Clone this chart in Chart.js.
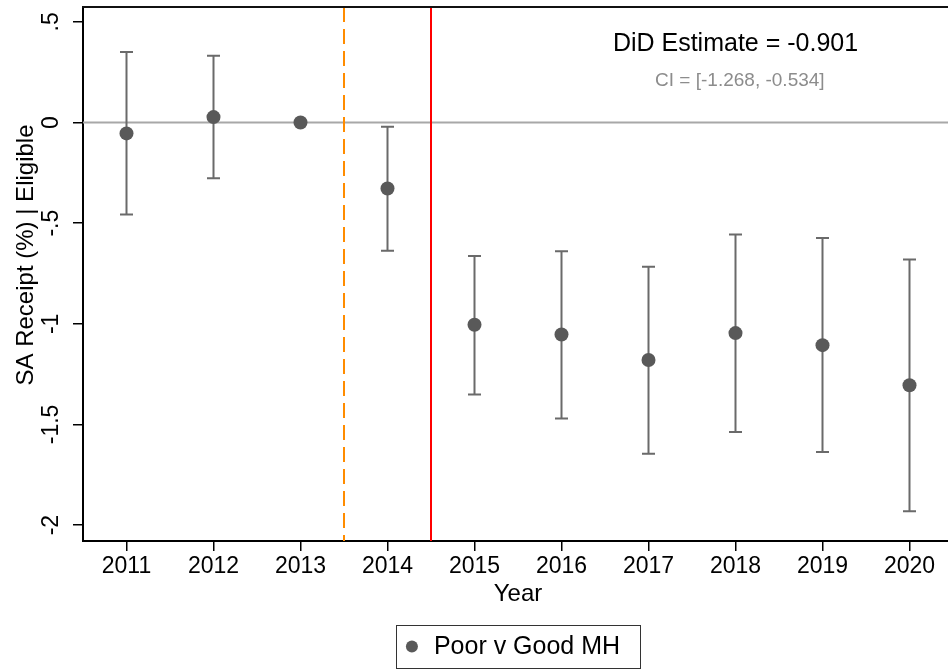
<!DOCTYPE html>
<html>
<head>
<meta charset="utf-8">
<script src="https://cdn.jsdelivr.net/npm/chart.js@4.4.1/dist/chart.umd.min.js"></script>
<style>
  html, body { margin: 0; padding: 0; background: #fff; overflow: hidden; }
  #wrap { width: 960px; height: 670px; }
</style>
</head>
<body>
<div id="wrap"><canvas id="chart" width="960" height="670"></canvas></div>
<script>
const FONT = '"Liberation Sans", Arial, Helvetica, sans-serif';

// event-study coefficients
const years = [2011, 2012, 2013, 2014, 2015, 2016, 2017, 2018, 2019, 2020];
const estimates = [-0.054, 0.027, 0, -0.328, -1.005, -1.053, -1.180, -1.046, -1.106, -1.305];
const ciLower = [-0.457, -0.277, null, -0.637, -1.351, -1.470, -1.645, -1.538, -1.637, -1.931];
const ciUpper = [0.350, 0.332, null, -0.021, -0.663, -0.639, -0.716, -0.556, -0.574, -0.680];

const yTicks = [0.5, 0, -0.5, -1, -1.5, -2];
const yTickLabels = [".5", "0", "-.5", "-1", "-1.5", "-2"];
const xTicks = years;

const yMin = -2.079, yMax = 0.574;
const xMin = 2010.5, xMax = 2020.5;

const announceLine = 2013.5; // dashed orange
const policyLine = 2014.5;   // solid red
const zeroLine = 0;

const didLabel = "DiD Estimate = -0.901";
const ciLabel = "CI = [-1.268, -0.534]";
const didAt = [2018, 0.39];
const ciAt = [2018.05, 0.21];

const seriesLabel = "Poor v Good MH";
const yTitle = "SA Receipt (%) | Eligible";

const pointColor = "#595959";
const barColor = "#6a6a6a";

// draws reference lines, error bars, frame, rotated y labels, notes and legend
const extras = {
  id: "extras",
  beforeDatasetsDraw(chart) {
    const { ctx, chartArea: a, scales: { x, y } } = chart;
    ctx.save();

    // zero line
    const y0 = y.getPixelForValue(zeroLine);
    ctx.strokeStyle = "#a8a8a8";
    ctx.lineWidth = 2;
    ctx.beginPath();
    ctx.moveTo(a.left, y0);
    ctx.lineTo(a.right, y0);
    ctx.stroke();

    // dashed orange
    let px = x.getPixelForValue(announceLine);
    ctx.strokeStyle = "#ff8c00";
    ctx.setLineDash([15, 7]);
    ctx.beginPath();
    ctx.moveTo(px, a.top);
    ctx.lineTo(px, a.bottom);
    ctx.stroke();
    ctx.setLineDash([]);

    // solid red
    px = x.getPixelForValue(policyLine);
    ctx.strokeStyle = "#ff0000";
    ctx.beginPath();
    ctx.moveTo(px, a.top);
    ctx.lineTo(px, a.bottom);
    ctx.stroke();

    // error bars
    ctx.strokeStyle = barColor;
    ctx.lineWidth = 2;
    years.forEach((yr, i) => {
      if (ciLower[i] == null) return;
      const cx = x.getPixelForValue(yr);
      const lo = y.getPixelForValue(ciLower[i]);
      const hi = y.getPixelForValue(ciUpper[i]);
      ctx.beginPath();
      ctx.moveTo(cx, lo); ctx.lineTo(cx, hi);
      ctx.moveTo(cx - 6.5, lo); ctx.lineTo(cx + 6.5, lo);
      ctx.moveTo(cx - 6.5, hi); ctx.lineTo(cx + 6.5, hi);
      ctx.stroke();
    });
    ctx.restore();
  },
  afterDraw(chart) {
    const { ctx, chartArea: a, scales: { x, y } } = chart;
    ctx.save();

    // top frame line
    ctx.strokeStyle = "#111";
    ctx.lineWidth = 2;
    ctx.beginPath();
    ctx.moveTo(a.left - 1, a.top);
    ctx.lineTo(a.right, a.top);
    ctx.stroke();

    // rotated y tick labels
    ctx.fillStyle = "#000";
    ctx.font = "23px " + FONT;
    ctx.textAlign = "center";
    ctx.textBaseline = "middle";
    yTicks.forEach((v, i) => {
      ctx.save();
      ctx.translate(52, y.getPixelForValue(v));
      ctx.rotate(-Math.PI / 2);
      ctx.fillText(yTickLabels[i], 0, 0);
      ctx.restore();
    });

    // y title
    ctx.save();
    ctx.font = "24px " + FONT;
    ctx.translate(26, 255);
    ctx.rotate(-Math.PI / 2);
    ctx.fillText(yTitle, 0, 0);
    ctx.restore();

    // estimate notes
    ctx.font = "25px " + FONT;
    ctx.fillText(didLabel, x.getPixelForValue(didAt[0]), y.getPixelForValue(didAt[1]));
    ctx.fillStyle = "#8c8c8c";
    ctx.font = "19px " + FONT;
    ctx.fillText(ciLabel, x.getPixelForValue(ciAt[0]), y.getPixelForValue(ciAt[1]));

    // legend box
    ctx.font = "25px " + FONT;
    const tw = ctx.measureText(seriesLabel).width;
    const boxW = 38 + tw + 20;
    const bx = (a.left + a.right) / 2 - boxW / 2;
    const by = 625, bh = 43;
    ctx.strokeStyle = "#333";
    ctx.lineWidth = 1;
    ctx.strokeRect(Math.round(bx) + 0.5, by + 0.5, Math.round(boxW), bh);
    ctx.fillStyle = pointColor;
    ctx.beginPath();
    ctx.arc(bx + 16, by + bh / 2, 6, 0, Math.PI * 2);
    ctx.fill();
    ctx.fillStyle = "#000";
    ctx.textAlign = "left";
    ctx.fillText(seriesLabel, bx + 38, by + bh / 2 + 1);

    ctx.restore();
  }
};

new Chart(document.getElementById("chart"), {
  type: "scatter",
  data: {
    datasets: [{
      label: seriesLabel,
      data: years.map((yr, i) => ({ x: yr, y: estimates[i] })),
      backgroundColor: pointColor,
      borderWidth: 0,
      pointRadius: 7,
      pointHoverRadius: 7
    }]
  },
  options: {
    responsive: false,
    animation: false,
    layout: { padding: 0 },
    plugins: {
      legend: { display: false },
      tooltip: { enabled: false }
    },
    scales: {
      x: {
        type: "linear",
        min: xMin,
        max: xMax,
        afterBuildTicks: (s) => { s.ticks = xTicks.map((v) => ({ value: v })); },
        afterFit: (s) => { s.height = 129; },
        ticks: {
          color: "#000",
          font: { family: FONT, size: 23 },
          padding: 2,
          maxRotation: 0,
          callback: (v) => String(v)
        },
        grid: { display: true, drawOnChartArea: false, drawTicks: true, tickLength: 10, color: "#000", lineWidth: 1.5 },
        border: { display: true, color: "#000", width: 2 },
        title: { display: true, text: "Year", color: "#000", font: { family: FONT, size: 24 }, padding: { top: 0, bottom: 61 } }
      },
      y: {
        type: "linear",
        min: yMin,
        max: yMax,
        afterBuildTicks: (s) => { s.ticks = yTicks.map((v) => ({ value: v })); },
        afterFit: (s) => { s.width = 83; },
        ticks: { display: false },
        grid: { display: true, drawOnChartArea: false, drawTicks: true, tickLength: 10, color: "#000", lineWidth: 1.5 },
        border: { display: true, color: "#000", width: 2 },
        title: { display: false }
      }
    }
  },
  plugins: [extras]
});
</script>
</body>
</html>
